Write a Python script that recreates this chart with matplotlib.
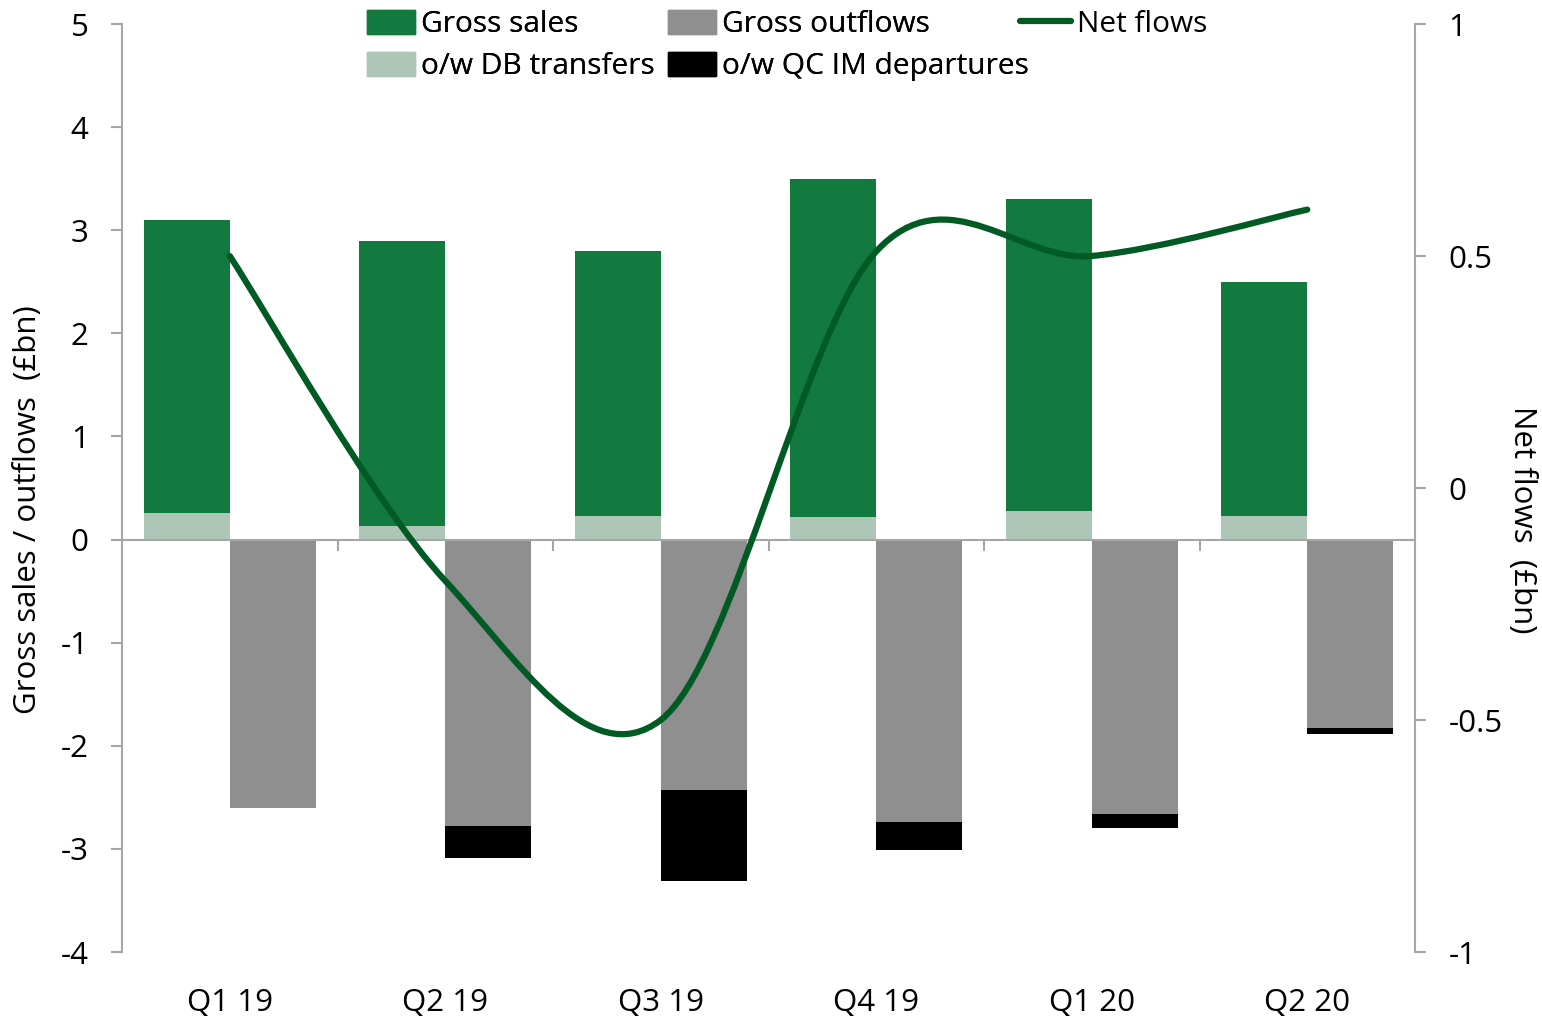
import matplotlib
matplotlib.use('Agg')
import matplotlib.pyplot as plt
from matplotlib.path import Path
from matplotlib.patches import PathPatch, Patch
from matplotlib.lines import Line2D
from matplotlib.ticker import FuncFormatter, FixedLocator
import numpy as np

plt.rcParams['font.family'] = ['Open Sans', 'DejaVu Sans']
plt.rcParams['axes.unicode_minus'] = False

# data (£bn)
quarters = ['Q1 19', 'Q2 19', 'Q3 19', 'Q4 19', 'Q1 20', 'Q2 20']
gross_sales = [3.1, 2.9, 2.8, 3.5, 3.3, 2.5]
db_transfers = [0.26, 0.13, 0.23, 0.22, 0.28, 0.23]
gross_outflows = [-2.6, -2.78, -2.43, -2.74, -2.66, -1.83]   # excl. departures
qc_departures = [0.0, -0.31, -0.88, -0.27, -0.14, -0.06]
net_flows = [0.5, -0.2, -0.5, 0.51, 0.5, 0.6]

c_sales = '#127A3E'
c_db = '#AEC6B8'
c_out = '#8F8F8F'
c_qc = '#000000'
c_net = '#005A24'
c_axis = '#A6A6A6'
fs = 22.5

fig = plt.figure(figsize=(15.42, 10.22), dpi=100)
ax = fig.add_axes([122/1542, 70/1022, 1293/1542, 928/1022])
ax2 = ax.twinx()

x = np.arange(len(quarters))
w = 0.4
ax.bar(x - w/2, gross_sales, w, color=c_sales, zorder=2)
ax.bar(x - w/2, db_transfers, w, color=c_db, zorder=2)
ax.bar(x + w/2, gross_outflows, w, color=c_out, zorder=2)
ax.bar(x + w/2, qc_departures, w, bottom=gross_outflows, color=c_qc, zorder=2)

ax.set_xlim(-0.5, len(quarters) - 0.5)
ax.set_ylim(-4, 5)
ax.set_yticks(range(-4, 6))
ax2.set_ylim(-1, 1)
ax2.set_yticks([-1, -0.5, 0, 0.5, 1])
ax2.yaxis.set_major_formatter(FuncFormatter(lambda v, p: ('%g' % v)))

# smooth net flow line (bezier through the points, like Excel's smoothed line)
pts = list(zip(x, net_flows))
verts = [pts[0]]
codes = [Path.MOVETO]
for i in range(len(pts) - 1):
    p0 = pts[i - 1] if i > 0 else pts[i]
    p1 = pts[i]
    p2 = pts[i + 1]
    p3 = pts[i + 2] if i + 2 < len(pts) else pts[i + 1]
    c1 = (p1[0] + (p2[0] - p0[0]) / 6, p1[1] + (p2[1] - p0[1]) / 6)
    c2 = (p2[0] - (p3[0] - p1[0]) / 6, p2[1] - (p3[1] - p1[1]) / 6)
    verts += [c1, c2, p2]
    codes += [Path.CURVE4] * 3
ax2.add_patch(PathPatch(Path(verts, codes), facecolor='none', edgecolor=c_net,
                        lw=4.5, capstyle='round', zorder=3))

# spines / ticks
ax.spines['top'].set_visible(False)
ax2.spines['top'].set_visible(False)
ax2.spines['left'].set_visible(False)
ax2.spines['bottom'].set_visible(False)
ax.spines['right'].set_visible(False)
ax.spines['left'].set_color(c_axis)
ax2.spines['right'].set_color(c_axis)
ax.spines['bottom'].set_position(('data', 0))
ax.spines['bottom'].set_color(c_axis)
ax.spines['bottom'].set_linewidth(1.5)
ax.spines['left'].set_linewidth(1.5)
ax2.spines['right'].set_linewidth(1.5)
ax.xaxis.set_major_locator(FixedLocator(x[:-1] + 0.5))
ax.set_xticklabels([])
ax.tick_params(axis='x', length=8, width=1.5, color=c_axis, direction='out')
ax.tick_params(axis='y', length=8, width=1.5, color=c_axis, labelsize=fs, pad=16)
ax2.tick_params(axis='y', length=8, width=1.5, color=c_axis, labelsize=fs, pad=16)

for i, q in enumerate(quarters):
    ax.text(i, -0.055, q, transform=ax.get_xaxis_transform(),
            ha='center', va='center', fontsize=fs)

ax.set_ylabel('Gross sales / outflows  (£bn)', fontsize=fs, va='center')
ax.yaxis.set_label_coords(-0.0727, 0.477)
ax2.set_ylabel('Net flows  (£bn)', fontsize=fs, rotation=270, va='center')
ax2.yaxis.set_label_coords(1.083, 0.4655)

# legend: bars in two rows, the line on its own to the right
handles = [Patch(color=c_sales), Patch(color=c_db), Patch(color=c_out),
           Patch(color=c_qc)]
labels = ['Gross sales', 'o/w DB transfers', 'Gross outflows',
          'o/w QC IM departures']
leg = fig.legend(handles, labels, ncol=2, frameon=False, fontsize=21.5,
                 loc='upper left', bbox_to_anchor=(355/1542, 1.002),
                 handlelength=1.6, handleheight=0.85, handletextpad=0.2,
                 columnspacing=0.45, labelspacing=0.42, borderaxespad=0)
fig.add_artist(leg)
fig.legend([Line2D([], [], color=c_net, lw=4.5, solid_capstyle='round')],
           ['Net flows'], frameon=False, fontsize=21.5,
           loc='upper left', bbox_to_anchor=(1008/1542, 1.002),
           handlelength=1.7, handletextpad=0.2, borderaxespad=0)

fig.savefig('out.png', dpi=100)
